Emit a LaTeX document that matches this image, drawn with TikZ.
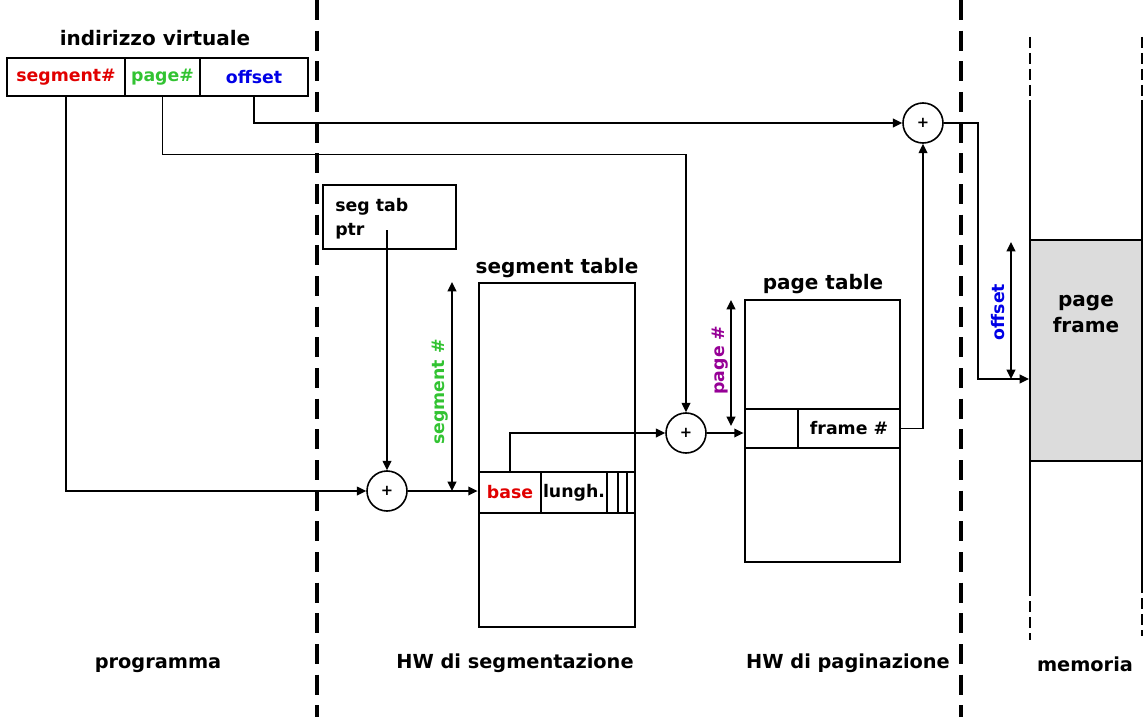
\documentclass[tikz,border=0pt]{standalone}
\usepackage{fontspec}
\setmainfont{DejaVu Sans}
\usetikzlibrary{arrows.meta,calc}
\definecolor{segred}{RGB}{225,0,0}
\definecolor{pggreen}{RGB}{50,195,50}
\definecolor{offblue}{RGB}{0,0,230}
\definecolor{pgpurple}{RGB}{150,0,150}
\definecolor{framegray}{RGB}{220,220,220}
\begin{document}
\begin{tikzpicture}[x=0.75pt,y=-0.75pt,
  conn/.style={line width=1.2pt,-{Triangle[length=7pt,width=6.5pt]}},
  dbl/.style={line width=1.2pt,{Triangle[length=7pt,width=6.5pt]}-{Triangle[length=7pt,width=6.5pt]}},
  cell/.style={draw,line width=2.1pt,inner sep=0pt,font=\bfseries\fontsize{13}{15}\selectfont},
  tablebox/.style={draw,line width=2.1pt,inner sep=0pt},
  sumnode/.style={draw,circle,line width=1.2pt,minimum size=30pt,inner sep=0pt,font=\bfseries\fontsize{11}{12}\selectfont},
  divider/.style={line width=3pt,dash pattern=on 15pt off 8pt},
  memline/.style={line width=1.9pt},
  memdash/.style={line width=1.9pt,dash pattern=on 8pt off 4pt},
  title/.style={font=\bfseries\fontsize{15}{18}\selectfont},
  sidelabel/.style={rotate=90,font=\bfseries\fontsize{13}{15}\selectfont},
  bottomlabel/.style={font=\bfseries\fontsize{14.5}{17}\selectfont}
]
\useasboundingbox (0,0) rectangle (1147,717);

% dividers
\coordinate (d1top) at (317,0); \coordinate (d1bot) at (317,717);
\coordinate (d2top) at (961,0); \coordinate (d2bot) at (961,717);
\draw[divider] (d1top) -- (d1bot);
\draw[divider] (d2top) -- (d2bot);

% virtual address
\node[title] (vatitle) at (155,38) {indirizzo virtuale};
\node[cell,minimum width=88.5pt,minimum height=28.5pt,text=segred] (segcell) at (66,77) {segment\#};
\node[cell,minimum width=56.25pt,minimum height=28.5pt,text=pggreen] (pagecell) at (162.5,77) {page\#};
\node[cell,minimum width=81pt,minimum height=28.5pt,text=offblue] (offcell) at (254,77) {offset};

% seg tab ptr
\node[tablebox,minimum width=99.75pt,minimum height=48pt] (stp) at (389.5,217) {};
\node[anchor=north west,align=left,inner sep=0pt,font=\bfseries\fontsize{13}{18}\selectfont] (stptext) at (335,198) {seg tab\\ptr};
\coordinate (ptr) at (387,230);

% adders
\node[sumnode] (sum1) at (387,491) {+};
\node[sumnode] (sum2) at (686,433) {+};
\node[sumnode] (sum3) at (923,123) {+};

% segment table
\node[title] (sttitle) at (557,268) {segment table};
\node[tablebox,minimum width=117pt,minimum height=258pt] (segtable) at (557,455) {};
\node[cell,minimum width=46.5pt,minimum height=30.75pt,text=segred] (basecell) at (510,492.5) {base};
\node[cell,minimum width=49.5pt,minimum height=30.75pt] (lunghcell) at (574,492.5) {lungh.};
\node[cell,minimum width=8.25pt,minimum height=30.75pt] (c1) at (612.5,492.5) {};
\node[cell,minimum width=6.75pt,minimum height=30.75pt] (c2) at (622.5,492.5) {};
\node[cell,minimum width=6pt,minimum height=30.75pt] (c3) at (631,492.5) {};

% page table
\node[title] (pttitle) at (823,284) {page table};
\node[tablebox,minimum width=116.25pt,minimum height=196.5pt] (pagetable) at (822.5,431) {};
\node[cell,minimum width=39.75pt,minimum height=29.25pt] (pgleft) at (771.5,428.5) {};
\node[cell,minimum width=76.5pt,minimum height=29.25pt] (framecell) at (849,428.5) {frame \#};

% memory
\node[draw,fill=framegray,line width=1.9pt,minimum width=84pt,minimum height=165.75pt,inner sep=0pt] (pageframe) at (1086,350.5) {};
\node[align=center,font=\bfseries\fontsize{15}{20}\selectfont] (pftext) at (1086,314) {page\\frame};
\coordinate (ml1) at (1030,37); \coordinate (ml2) at (1030,100);
\coordinate (ml3) at (1030,585); \coordinate (ml4) at (1030,640);
\coordinate (mr1) at (1142,37); \coordinate (mr2) at (1142,100);
\coordinate (mr3) at (1142,582); \coordinate (mr4) at (1142,636);
\draw[memdash] (ml1) -- (ml2);
\draw[memline] (ml2) -- (ml3);
\draw[memdash] (ml3) -- (ml4);
\draw[memdash] (mr1) -- (mr2);
\draw[memline] (mr2) -- (mr3);
\draw[memdash] (mr3) -- (mr4);
\coordinate (memin) at (1029,379);

% connectors
\draw[conn] (segcell.south) |- (sum1);
\draw[conn] (pagecell.south) -- ++(0,57) -| (sum2);
\draw[conn] (offcell.south) |- (sum3);
\draw[conn] (ptr) -- (sum1);
\draw[conn] (sum1) -- (sum1 -| segtable.west);
\draw[conn] (basecell.north) |- (sum2);
\draw[conn] (sum2) -- (sum2 -| pagetable.west);
\draw[conn] (framecell.east) -| (sum3);
\draw[conn] (sum3.east) -- ++(34,0) |- (memin);

% range arrows
\coordinate (sa) at (452,282); \coordinate (sb) at (452,491);
\draw[dbl] (sa) -- (sb);
\node[sidelabel,text=pggreen] (seglab) at (440,392) {segment \#};
\coordinate (pa) at (731,300); \coordinate (pb) at (731,426);
\draw[dbl] (pa) -- (pb);
\node[sidelabel,text=pgpurple] (pglab) at (720,360) {page \#};
\coordinate (oa) at (1011,242); \coordinate (ob) at (1011,379);
\draw[dbl] (oa) -- (ob);
\node[sidelabel,text=offblue] (offlab) at (998,312) {offset};

% bottom labels
\node[bottomlabel] (lprog) at (158,665) {programma};
\node[bottomlabel] (lseg) at (515,663) {HW di segmentazione};
\node[bottomlabel] (lpag) at (848,663) {HW di paginazione};
\node[bottomlabel] (lmem) at (1085,664) {memoria};
\end{tikzpicture}
\end{document}
